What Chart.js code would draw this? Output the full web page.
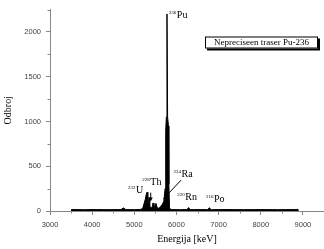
<!DOCTYPE html>
<html><head><meta charset="utf-8">
<script src="https://cdn.jsdelivr.net/npm/chart.js@4/dist/chart.umd.min.js"></script>
<style>html,body{margin:0;padding:0;background:#fff}</style>
</head><body>
<canvas id="c" width="324" height="249"></canvas>
<script>
// Spectrum (energy in keV, counts)
const energies = [3500,3510,3800,4100,4400,4680,4710,4735,4760,4790,4830,5000,5150,5200,5230,5260,5290,5305,5320,5335,5350,5365,5390,5420,5445,5465,5490,5515,5540,5570,5600,5640,5670,5700,5730,5745,5760,5775,5790,5810,5820,5835,5860,6100,6250,6275,6290,6310,6340,6600,6740,6765,6785,6805,6830,7200,7600,8000,8400,8800,8870,8880];
const counts   = [0,16,15,16,15,16,24,34,30,18,16,15,18,30,80,130,200,210,100,60,150,60,30,40,90,40,60,85,40,30,40,60,80,110,250,900,1050,2200,1050,950,300,40,16,15,16,32,38,22,15,16,15,30,36,20,15,16,15,16,15,16,18,0];

const xTicks = [3000,4000,5000,6000,7000,8000,9000];
const yTicks = [0,500,1000,1500,2000];
const xMinor = [3500,4500,5500,6500,7500,8500,9500];
const yMinor = [250,750,1250,1750,2250];

const legendText = 'Nepreciseen traser Pu-236';
// isotope labels: mass number, symbol, anchor in data coords (keV, counts)
const isoMass = ['236','232','228','224','220','216'];
const isoSym  = ['Pu','U','Th','Ra','Rn','Po'];
const isoE    = [5820,4850,5190,5930,6020,6700];
const isoC    = [2150,200,290,378,122,100];

const serif = '"Liberation Serif", "Times New Roman", serif';

const extras = {
  id: 'extras',
  afterDraw(chart) {
    const ctx = chart.ctx, xs = chart.scales.x, ys = chart.scales.y;
    const ca = chart.chartArea;
    ctx.save();
    // minor ticks
    ctx.strokeStyle = '#888'; ctx.lineWidth = 1;
    xMinor.forEach(v => {
      const px = Math.round(xs.getPixelForValue(v)) + 0.5;
      ctx.beginPath(); ctx.moveTo(px, ca.bottom); ctx.lineTo(px, ca.bottom + 2.5); ctx.stroke();
    });
    yMinor.forEach(v => {
      const py = Math.round(ys.getPixelForValue(v)) + 0.5;
      ctx.beginPath(); ctx.moveTo(ca.left - 2.5, py); ctx.lineTo(ca.left, py); ctx.stroke();
    });
    // isotope labels
    ctx.fillStyle = '#000'; ctx.textBaseline = 'alphabetic'; ctx.textAlign = 'left';
    for (let i = 0; i < isoMass.length; i++) {
      const x = xs.getPixelForValue(isoE[i]), y = ys.getPixelForValue(isoC[i]);
      ctx.font = '5px ' + serif;
      ctx.fillText(isoMass[i], x, y - 4.5);
      const w = ctx.measureText(isoMass[i]).width;
      ctx.font = '10px ' + serif;
      ctx.fillText(isoSym[i], x + w + 0.5, y);
    }
    // Th arrow
    const ax = xs.getPixelForValue(5390);
    const ay1 = ys.getPixelForValue(205), ay2 = ys.getPixelForValue(105);
    ctx.strokeStyle = '#000'; ctx.lineWidth = 1;
    ctx.beginPath(); ctx.moveTo(ax, ay1); ctx.lineTo(ax, ay2 - 3); ctx.stroke();
    ctx.beginPath(); ctx.moveTo(ax - 2, ay2 - 4); ctx.lineTo(ax + 2, ay2 - 4); ctx.lineTo(ax, ay2); ctx.closePath(); ctx.fill();
    // Ra pointer line
    ctx.beginPath();
    ctx.moveTo(xs.getPixelForValue(6110), ys.getPixelForValue(345));
    ctx.lineTo(xs.getPixelForValue(5690), ys.getPixelForValue(135));
    ctx.stroke();
    // legend box
    ctx.font = '9px ' + serif;
    const tw = ctx.measureText(legendText).width;
    const bw = 113, bh = 12, bx = ca.right - 6 - bw, by = ca.top + 27;
    ctx.fillStyle = '#000';
    ctx.fillRect(bx + 2, by + 2, bw, bh);
    ctx.fillStyle = '#fff';
    ctx.fillRect(bx, by, bw, bh);
    ctx.strokeStyle = '#000';
    ctx.strokeRect(bx + 0.5, by + 0.5, bw - 1, bh - 1);
    ctx.fillStyle = '#000'; ctx.textBaseline = 'middle';
    ctx.fillText(legendText, bx + (bw - tw) / 2, by + bh / 2 + 0.5);
    ctx.restore();
  }
};

const tickFont = { family: '"Liberation Sans", Arial, sans-serif', size: 7.5 };

new Chart(document.getElementById('c'), {
  type: 'line',
  data: {
    datasets: [{
      label: legendText,
      data: energies.map((e, i) => ({ x: e, y: counts[i] })),
      borderColor: '#000', backgroundColor: '#000', borderWidth: 1,
      fill: 'origin', pointRadius: 0, tension: 0
    }]
  },
  options: {
    responsive: false, animation: false, devicePixelRatio: 1,
    layout: { padding: { top: 9, right: 0, left: 0, bottom: 0 } },
    plugins: { legend: { display: false }, tooltip: { enabled: false } },
    scales: {
      x: {
        type: 'linear', min: 3000, max: 9500,
        afterBuildTicks: s => { s.ticks = xTicks.map(v => ({ value: v })); },
        afterFit: s => { s.height = 38; },
        grid: { drawOnChartArea: false, drawTicks: true, tickLength: 4, color: '#888' },
        border: { display: true, color: '#888' },
        ticks: { font: tickFont, color: '#444', padding: 5, maxRotation: 0, callback: v => String(v) },
        title: { display: true, text: 'Energija [keV]', font: { family: serif, size: 10 }, color: '#000', padding: { top: 0, bottom: 4 } }
      },
      y: {
        type: 'linear', min: 0, max: 2250,
        afterBuildTicks: s => { s.ticks = yTicks.map(v => ({ value: v })); },
        afterFit: s => { s.width = 50; },
        grid: { drawOnChartArea: false, drawTicks: true, tickLength: 4, color: '#888' },
        border: { display: true, color: '#888' },
        ticks: { font: tickFont, color: '#444', padding: 5, callback: v => String(v) },
        title: { display: true, text: 'Odbroj', font: { family: serif, size: 10 }, color: '#000', padding: { top: 2, bottom: 0 } }
      }
    }
  },
  plugins: [extras]
});
</script>
</body></html>
